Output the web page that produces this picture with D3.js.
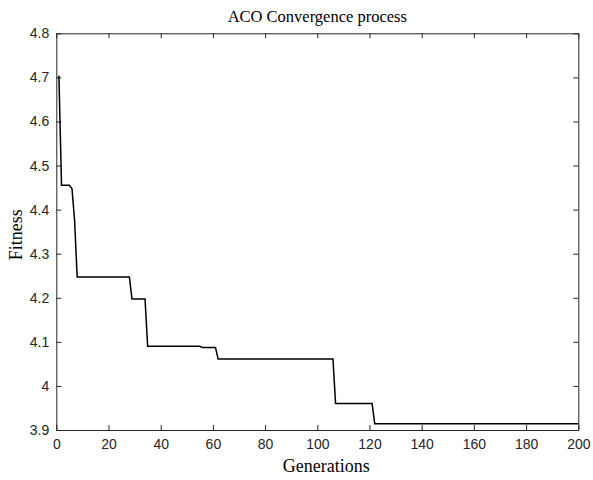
<!DOCTYPE html>
<html>
<head>
<meta charset="utf-8">
<script src="https://cdn.jsdelivr.net/npm/d3@7"></script>
<style>
  body { margin: 0; background: #fff; }
  .tick text { font-family: "Liberation Sans", Arial, sans-serif; font-size: 14px; fill: #262626; }
  .domain, .tick line { stroke: #262626; }
</style>
</head>
<body>
<div id="chart-area"></div>
<script>
// breakpoints of the best-fitness curve (generation, fitness)
var generations = [1, 2, 5, 6, 7, 8, 28, 29, 34, 35, 55, 56, 61, 62, 106, 107, 121, 122, 200];
var fitness = [4.704, 4.455, 4.455, 4.448, 4.376, 4.247, 4.247, 4.197, 4.197, 4.090, 4.090, 4.087, 4.087, 4.061, 4.061, 3.960, 3.960, 3.914, 3.914];

var xTicks = [0, 20, 40, 60, 80, 100, 120, 140, 160, 180, 200];
var yTicks = [3.9, 4, 4.1, 4.2, 4.3, 4.4, 4.5, 4.6, 4.7, 4.8];

var margin = { left: 56.3, right: 14.7, top: 33.3, bottom: 50 };
var W = 593, H = 480;
var width = W - margin.left - margin.right;
var height = H - margin.top - margin.bottom;

var svg = d3.select("#chart-area").append("svg")
    .attr("width", W)
    .attr("height", H);

var g = svg.append("g")
    .attr("transform", "translate(" + margin.left + ", " + margin.top + ")");

var x = d3.scaleLinear().domain([0, 200]).range([0, width]);
var y = d3.scaleLinear().domain([3.9, 4.8]).range([height, 0]);

// bottom / left axes with inward ticks
g.append("g")
    .attr("class", "x axis")
    .attr("transform", "translate(0, " + height + ")")
    .call(d3.axisBottom(x).tickValues(xTicks).tickSizeInner(-5).tickSizeOuter(0).tickPadding(9).tickFormat(d3.format("d")));

g.append("g")
    .attr("class", "y axis")
    .call(d3.axisLeft(y).tickValues(yTicks).tickSizeInner(-5).tickSizeOuter(0).tickPadding(7).tickFormat((d) => d3.format("")(+d.toFixed(1))));

// top / right axes (box)
g.append("g")
    .call(d3.axisTop(x).tickValues(xTicks).tickSizeInner(-5).tickSizeOuter(0).tickFormat(""));

g.append("g")
    .attr("transform", "translate(" + width + ", 0)")
    .call(d3.axisRight(y).tickValues(yTicks).tickSizeInner(-5).tickSizeOuter(0).tickFormat(""));

// curve
var line = d3.line()
    .x((d, i) => x(generations[i]))
    .y((d) => y(d));

g.append("path")
    .datum(fitness)
    .attr("d", line)
    .attr("fill", "none")
    .attr("stroke", "#000")
    .attr("stroke-width", 1.5);

// title
svg.append("text")
    .attr("x", margin.left + width / 2)
    .attr("y", 22)
    .attr("text-anchor", "middle")
    .style("font-family", "'Liberation Serif', 'Times New Roman', serif")
    .style("font-size", "16.5px")
    .text("ACO Convergence process");

// x label
svg.append("text")
    .attr("x", margin.left + width / 2 + 9)
    .attr("y", 472)
    .attr("text-anchor", "middle")
    .style("font-family", "'Liberation Serif', 'Times New Roman', serif")
    .style("font-size", "18px")
    .text("Generations");

// y label
svg.append("text")
    .attr("transform", "translate(22, " + (margin.top + height / 2 + 3) + ") rotate(-90)")
    .attr("text-anchor", "middle")
    .style("font-family", "'Liberation Serif', 'Times New Roman', serif")
    .style("font-size", "18px")
    .text("Fitness");
</script>
</body>
</html>
